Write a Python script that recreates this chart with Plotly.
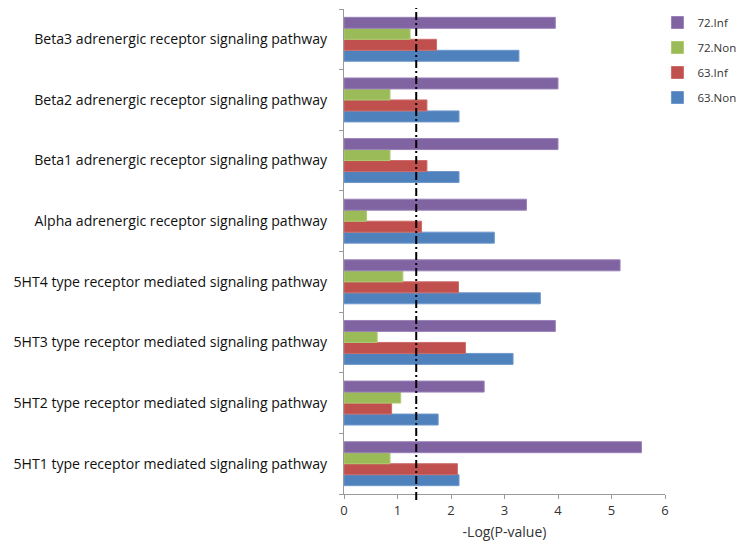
import plotly.graph_objects as go

categories = [
    "5HT1 type receptor mediated signaling pathway",
    "5HT2 type receptor mediated signaling pathway",
    "5HT3 type receptor mediated signaling pathway",
    "5HT4 type receptor mediated signaling pathway",
    "Alpha adrenergic receptor signaling pathway",
    "Beta1 adrenergic receptor signaling pathway",
    "Beta2 adrenergic receptor signaling pathway",
    "Beta3 adrenergic receptor signaling pathway",
]
non63 = [2.15, 1.76, 3.16, 3.67, 2.81, 2.15, 2.15, 3.27]
inf63 = [2.12, 0.89, 2.27, 2.14, 1.45, 1.55, 1.55, 1.73]
non72 = [0.86, 1.06, 0.62, 1.10, 0.42, 0.86, 0.86, 1.235]
inf72 = [5.56, 2.62, 3.95, 5.16, 3.41, 4.00, 4.00, 3.95]
threshold = 1.35
x_ticks = [0, 1, 2, 3, 4, 5, 6]

series = [
    ("63.Non", non63, "#4F81BD", "#6F98CC", 4),
    ("63.Inf", inf63, "#C0504D", "#CC6E6B", 3),
    ("72.Non", non72, "#9BBB59", "#AECB72", 2),
    ("72.Inf", inf72, "#8064A2", "#9A82B8", 1),
]

fig = go.Figure()
for name, vals, col, edge, rank in series:
    fig.add_trace(go.Bar(
        y=categories, x=vals, name=name, orientation="h",
        marker=dict(color=col, line=dict(color=edge, width=1)),
        legendgroup=name, legendrank=rank,
    ))

fig.add_shape(type="line", xref="x", yref="paper", x0=threshold, x1=threshold,
              y0=-0.0124, y1=1.0124,
              line=dict(color="black", width=2, dash="8px,3px,2px,3px"))

fig.update_layout(
    width=738, height=541,
    margin=dict(l=336, r=81, t=1, b=55, autoexpand=False),
    paper_bgcolor="white", plot_bgcolor="white",
    barmode="group", bargap=0.275, bargroupgap=0,
    font=dict(family="Open Sans", size=13, color="#222222"),
    showlegend=True,
    legend=dict(xref="container", yref="container", x=0.880, y=1.024,
                xanchor="left", yanchor="top",
                traceorder="grouped", tracegroupgap=6,
                font=dict(size=11.5, color="#333333"), itemwidth=30),
    xaxis=dict(range=[0, 6], tickvals=x_ticks, showgrid=False, zeroline=False,
               showline=True, linecolor="#9A9A9A", linewidth=1,
               ticks="outside", ticklen=4, tickcolor="#9A9A9A",
               tickfont=dict(size=13, color="#333333"), automargin=False,
               title=dict(text="-Log(P-value)", font=dict(size=14, color="#333333"), standoff=9)),
    yaxis=dict(showgrid=False, zeroline=False, showline=True, linecolor="#9A9A9A",
               linewidth=1, ticks="outside", ticklen=4, tickcolor="#9A9A9A",
               tickson="boundaries", categoryorder="array", categoryarray=categories,
               tickfont=dict(size=14.1, color="#111111"), ticklabelstandoff=13,
               automargin=False),
)

fig.write_html("out.html")
